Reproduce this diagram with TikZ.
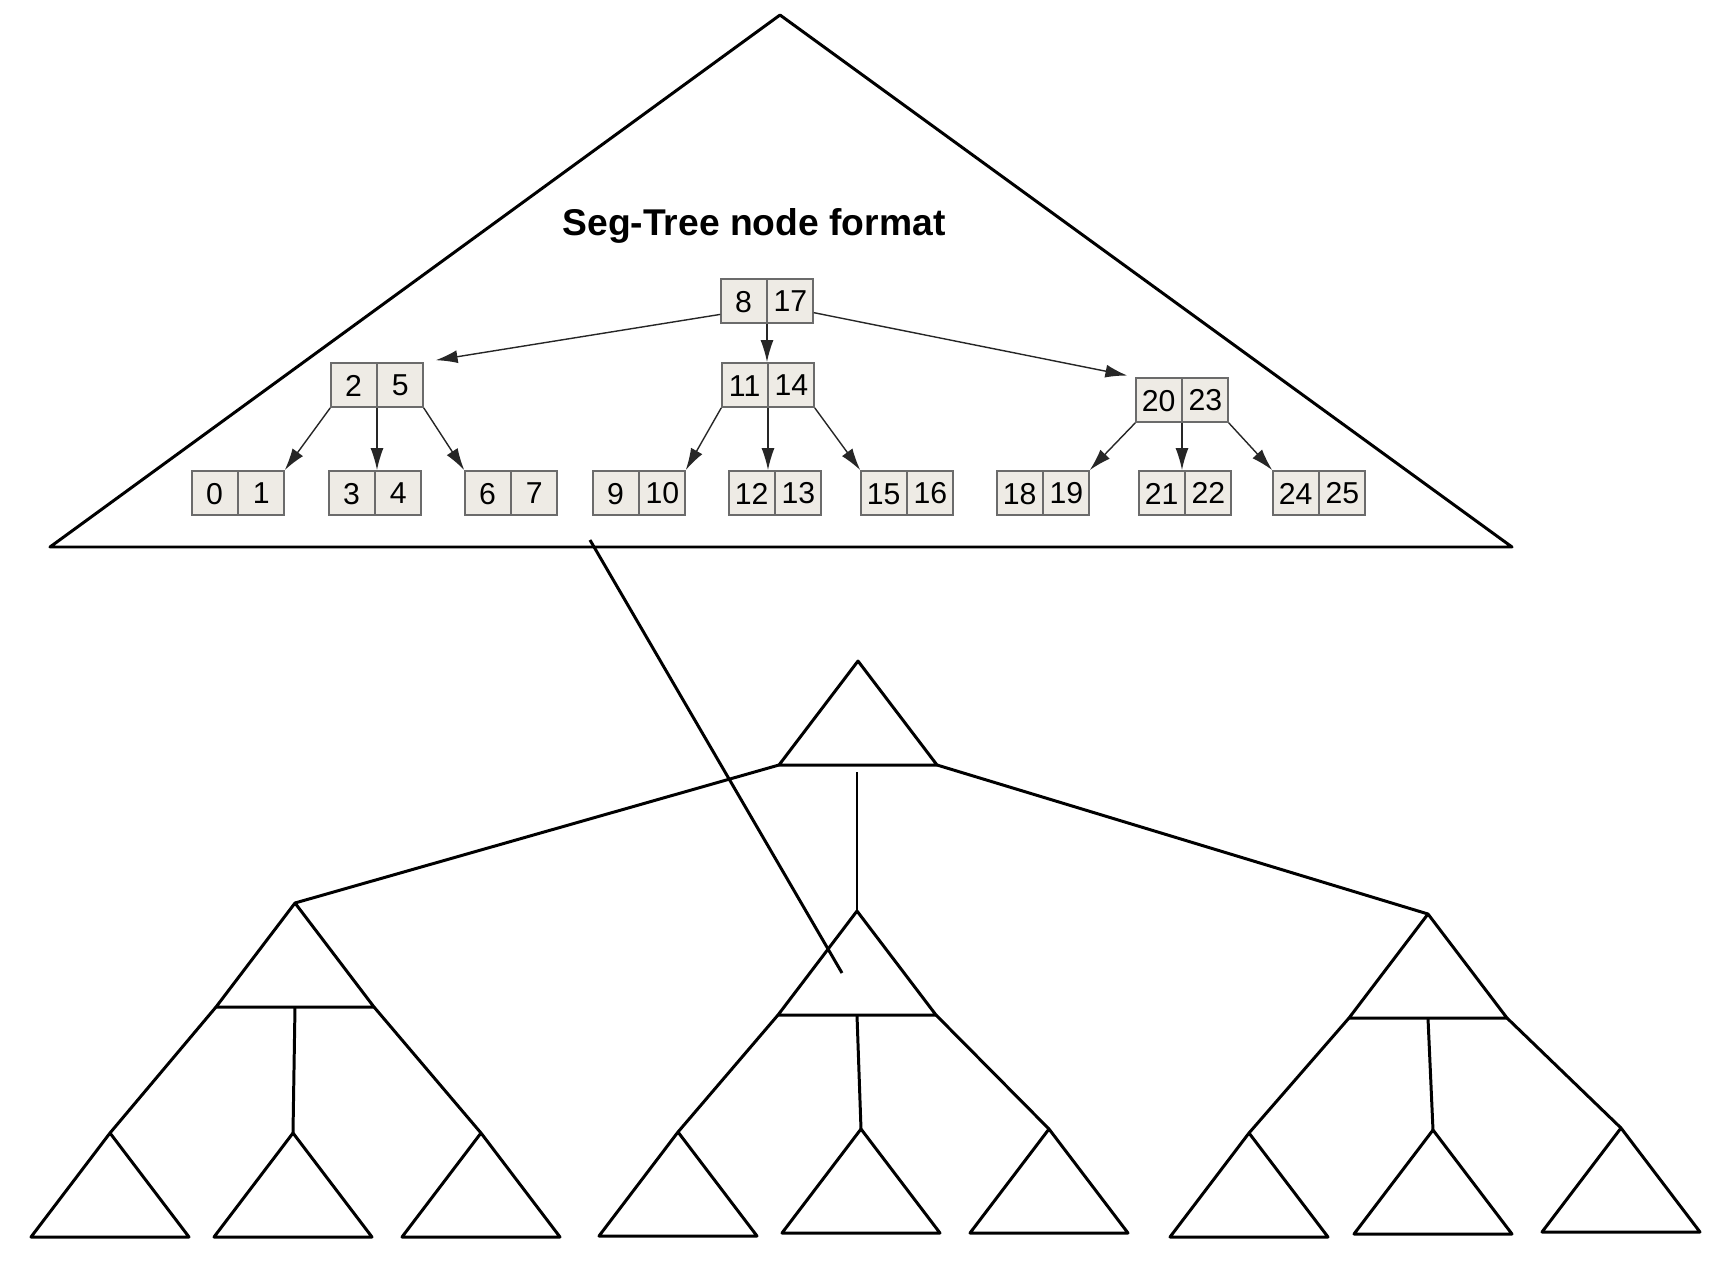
\documentclass[tikz,border=0pt]{standalone}
\usepackage{fontspec}
\setmainfont{Liberation Sans}
\usetikzlibrary{arrows.meta,shapes.multipart}
\definecolor{cellfill}{HTML}{EEEBE5}
\definecolor{cellline}{HTML}{6B6B6B}
\tikzset{
  segnode/.style={rectangle split, rectangle split horizontal, rectangle split parts=2,
    draw=cellline, line width=0.5pt, fill=cellfill, inner xsep=0pt, inner ysep=0pt,
    text width=4.5mm, align=center, text height=3.3mm, text depth=1.1mm,
    font=\fontsize{8.6}{10}\selectfont},
  segarrow/.style={draw=black!85, line width=0.4pt, -{Latex[length=2.2mm,width=1.3mm]}},
  treeline/.style={line width=0.85pt, line join=round}
}
\begin{document}
\begin{tikzpicture}[x=0.1mm, y=-0.1mm]
    \useasboundingbox (0,0) rectangle (1732,1280);
    % outer triangle holding one node of the tree
    \draw[treeline] (780,15) -- (1512,547) -- (50,547) -- cycle;
    \node[font=\bfseries\fontsize{10.6}{12}\selectfont] (title) at (754,226) {Seg-Tree node format};
    \node[segnode] (n817) at (767,301) {8\nodepart{two}17};
    \node[segnode] (n25) at (377,385) {2\nodepart{two}5};
    \node[segnode] (n1114) at (768,385) {11\nodepart{two}14};
    \node[segnode] (n2023) at (1182,400) {20\nodepart{two}23};
    \node[segnode] (n01) at (238,493) {0\nodepart{two}1};
    \node[segnode] (n34) at (375,493) {3\nodepart{two}4};
    \node[segnode] (n67) at (511,493) {6\nodepart{two}7};
    \node[segnode] (n910) at (639,493) {9\nodepart{two}10};
    \node[segnode] (n1213) at (775,493) {12\nodepart{two}13};
    \node[segnode] (n1516) at (907,493) {15\nodepart{two}16};
    \node[segnode] (n1819) at (1043,493) {18\nodepart{two}19};
    \node[segnode] (n2122) at (1185,493) {21\nodepart{two}22};
    \node[segnode] (n2425) at (1319,493) {24\nodepart{two}25};
    \draw[segarrow, shorten >=1.2mm] (n817.196) -- (n25.north east);
    \draw[segarrow] (n817.south) -- (n817.south |- n1114.north);
    \draw[segarrow, shorten >=0.8mm] (n817.-14) -- (n2023.north west);
    \draw[segarrow] (n25.south west) -- (n01.north east);
    \draw[segarrow] (n25.south) -- (n25.south |- n34.north);
    \draw[segarrow] (n25.south east) -- (n67.north west);
    \draw[segarrow] (n1114.south west) -- (n910.north east);
    \draw[segarrow] (n1114.south) -- (n1114.south |- n1213.north);
    \draw[segarrow] (n1114.south east) -- (n1516.north west);
    \draw[segarrow] (n2023.south west) -- (n1819.north east);
    \draw[segarrow] (n2023.south) -- (n2023.south |- n2122.north);
    \draw[segarrow] (n2023.south east) -- (n2425.north west);
    % tree of triangles, apex positions
    \foreach \n/\x/\y in {top/858/661, l/295/903, m/857/911, r/1428/914,
        l1/110/1133, l2/293/1133, l3/481/1133, m1/678/1132, m2/861/1129,
        m3/1049/1129, r1/1249/1133, r2/1433/1130, r3/1621/1128} {
      \coordinate (\n) at (\x,\y);
      \coordinate (\n-bl) at (\x-79,\y+104);
      \coordinate (\n-br) at (\x+79,\y+104);
      \draw[treeline] (\n) -- (\n-bl) -- (\n-br) -- cycle;
    }
    \draw[treeline] (top-bl) -- (l);
    \draw[treeline] (top-br) -- (r);
    \draw[treeline] ([yshift=-0.7mm]top-bl -| m) -- (m);
    \draw[treeline] (l-bl) -- (l1);
    \draw[treeline] (l |- l-bl) -- (l2);
    \draw[treeline] (l-br) -- (l3);
    \draw[treeline] (m-bl) -- (m1);
    \draw[treeline] (m |- m-bl) -- (m2);
    \draw[treeline] (m-br) -- (m3);
    \draw[treeline] (r-bl) -- (r1);
    \draw[treeline] (r |- r-bl) -- (r2);
    \draw[treeline] (r-br) -- (r3);
    % line from the big triangle down into the middle node
    \coordinate (zoomfrom) at (590,540);
    \coordinate (zoomto) at (842,973);
    \draw[treeline] (zoomfrom) -- (zoomto);
\end{tikzpicture}
\end{document}
